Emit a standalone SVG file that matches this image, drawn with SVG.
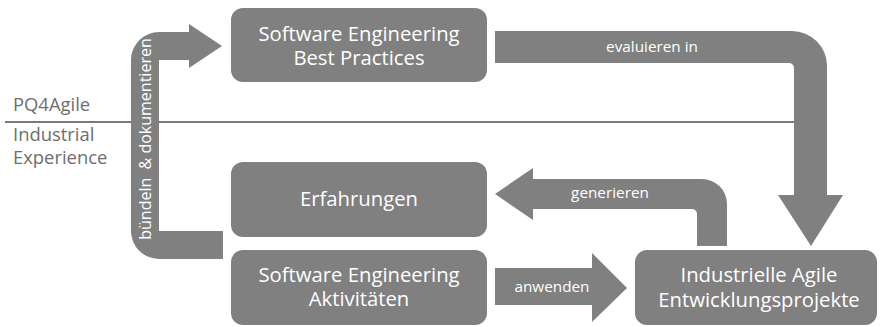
<svg xmlns="http://www.w3.org/2000/svg" width="880" height="327" viewBox="0 0 880 327">
  <style>
    .box { fill: #808080; }
    .band { fill: #808080; }
    .node-text { font-family: "Open Sans", "Noto Sans", sans-serif; font-size: 20.3px; fill: #ffffff; text-anchor: middle; }
    .edge-text { font-family: "Open Sans", "Noto Sans", sans-serif; font-size: 15.3px; fill: #ffffff; text-anchor: middle; }
    .side-text { font-family: "Open Sans", "Noto Sans", sans-serif; font-size: 18.4px; fill: #6e6e6e; }
    .divider { stroke: #7a7a7a; stroke-width: 2.2; }
  </style>

  <!-- layer labels and divider -->
  <g id="layers">
    <line class="divider" x1="5" y1="122" x2="795" y2="122"/>
    <text class="side-text" x="13" y="111">PQ4Agile</text>
    <text class="side-text" x="13" y="141">Industrial</text>
    <text class="side-text" x="13" y="164">Experience</text>
  </g>

  <!-- connectors drawn as broad arrow bands -->
  <g id="connectors">
    <g id="edge-buendeln">
      <path class="band" d="M223,231 L159,231 L159,60 L189,60 L189,68 L222,46 L189,24 L189,32 L159,32 A28,28 0 0 0 131,60 L131,231 A28,28 0 0 0 159,259 L223,259 Z"/>
      <text class="edge-text" style="font-size:16px" transform="translate(150.5,139) rotate(-90)" xml:space="preserve">bündeln  &amp; dokumentieren</text>
    </g>
    <g id="edge-evaluieren">
      <path class="band" d="M495,31 L792,31 A35,35 0 0 1 827,66 L827,195 L843,195 L811,246 L778,195 L794,195 L794,68 A5,5 0 0 0 789,63 L495,63 Z"/>
      <text class="edge-text" x="652" y="52">evaluieren in</text>
    </g>
    <g id="edge-generieren">
      <path class="band" d="M727,246 L727,204 A25,25 0 0 0 702,179 L533,179 L533,168 L495,194 L533,220 L533,209 L692,209 A5,5 0 0 1 697,214 L697,246 Z"/>
      <text class="edge-text" x="610" y="198">generieren</text>
    </g>
    <g id="edge-anwenden">
      <path class="band" d="M495,268 L592,268 L592,253 L627,288 L592,322 L592,305 L495,305 Z"/>
      <text class="edge-text" x="552" y="292">anwenden</text>
    </g>
  </g>

  <!-- nodes -->
  <g id="node-best-practices">
    <rect class="box" x="231" y="8" width="256" height="74" rx="12"/>
    <text class="node-text" x="359" y="41">Software Engineering</text>
    <text class="node-text" x="359" y="65">Best Practices</text>
  </g>
  <g id="node-erfahrungen">
    <rect class="box" x="231" y="162" width="256" height="75" rx="12"/>
    <text class="node-text" x="359" y="206">Erfahrungen</text>
  </g>
  <g id="node-aktivitaeten">
    <rect class="box" x="231" y="250" width="256" height="75" rx="12"/>
    <text class="node-text" x="359" y="282">Software Engineering</text>
    <text class="node-text" x="359" y="306">Aktivitäten</text>
  </g>
  <g id="node-projekte">
    <rect class="box" x="635" y="250" width="242" height="75" rx="12"/>
    <text class="node-text" x="759" y="282">Industrielle Agile</text>
    <text class="node-text" x="759" y="307">Entwicklungsprojekte</text>
  </g>
</svg>
